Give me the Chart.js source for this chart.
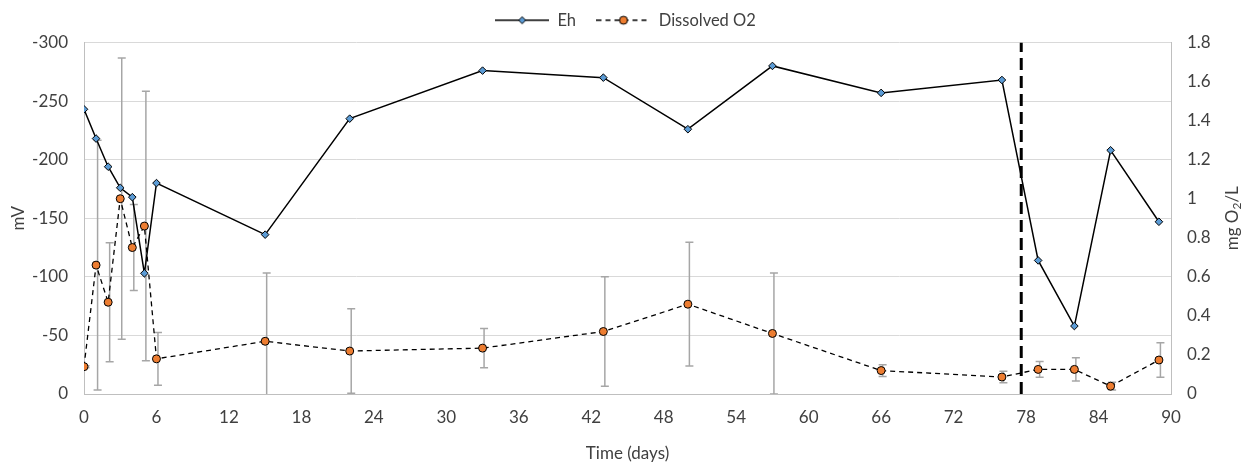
<!DOCTYPE html>
<html>
<head>
<meta charset="utf-8">
<title>Eh and dissolved O2</title>
<script src="https://cdn.jsdelivr.net/npm/chart.js"></script>
<style>
    html, body { margin: 0; padding: 0; background: #fff; }
    .wrap { position: relative; width: 1251px; height: 469px; }
</style>
</head>
<body>
<div class="wrap"><canvas id="chart"></canvas></div>
<script>
// sampling days
const days = [0, 1, 2, 3, 4, 5, 6, 15, 22, 33, 43, 50, 57, 66, 76, 79, 82, 85, 89];
// Eh (mV), left axis
const eh = [-243, -218, -194, -176, -168, -103, -180, -136, -235, -276, -270, -226, -280, -257, -268, -114, -58, -208, -147];
// dissolved O2 (mg/L), right axis, with +/- error
const o2 = [0.14, 0.66, 0.47, 1.0, 0.75, 0.86, 0.18, 0.27, 0.22, 0.235, 0.32, 0.46, 0.31, 0.12, 0.087, 0.126, 0.126, 0.04, 0.174];
const o2Err = [0.005, 0.64, 0.305, 0.72, 0.22, 0.69, 0.135, 0.35, 0.216, 0.10, 0.28, 0.317, 0.31, 0.03, 0.03, 0.04, 0.06, 0.02, 0.088];
const dividerDay = 77.6;

const xTicks = [0, 6, 12, 18, 24, 30, 36, 42, 48, 54, 60, 66, 72, 78, 84, 90];
const mvTicks = [0, -50, -100, -150, -200, -250, -300];
const o2Ticks = [0, 0.2, 0.4, 0.6, 0.8, 1, 1.2, 1.4, 1.6, 1.8];

const FONT = 'Lato';
const TEXT = '#404040';
const GRID = '#d9d9d9';
const AXIS = '#bfbfbf';

// legend icons: line with marker in the middle
function legendIcon(dashed, marker) {
    const c = document.createElement('canvas');
    c.width = 54; c.height = 12;
    const g = c.getContext('2d');
    g.strokeStyle = '#000';
    g.lineWidth = 1.5;
    if (dashed) g.setLineDash([5, 4]);
    g.beginPath(); g.moveTo(0, 6); g.lineTo(54, 6); g.stroke();
    g.setLineDash([]);
    g.lineWidth = 1;
    g.beginPath();
    if (marker === 'diamond') {
        g.moveTo(27, 2.5); g.lineTo(30.5, 6); g.lineTo(27, 9.5); g.lineTo(23.5, 6); g.closePath();
        g.fillStyle = '#5b9bd5';
    } else {
        g.arc(27, 6, 4, 0, Math.PI * 2);
        g.fillStyle = '#ed7d31';
    }
    g.fill(); g.stroke();
    return c;
}
const icons = [legendIcon(false, 'diamond'), legendIcon(true, 'circle')];

const errorBars = {
    id: 'errorBars',
    beforeDatasetsDraw(chart) {
        const { ctx, chartArea, scales } = chart;
        ctx.save();
        ctx.beginPath();
        ctx.rect(chartArea.left, chartArea.top, chartArea.right - chartArea.left, chartArea.bottom - chartArea.top);
        ctx.clip();
        ctx.strokeStyle = '#a6a6a6';
        ctx.lineWidth = 1.5;
        days.forEach((d, i) => {
            const x = scales.x.getPixelForValue(d) + 1.5;
            const yTop = scales.y1.getPixelForValue(o2[i] + o2Err[i]);
            const yBot = scales.y1.getPixelForValue(o2[i] - o2Err[i]);
            ctx.beginPath();
            ctx.moveTo(x, yTop); ctx.lineTo(x, yBot);
            ctx.moveTo(x - 4, yTop); ctx.lineTo(x + 4, yTop);
            ctx.moveTo(x - 4, yBot); ctx.lineTo(x + 4, yBot);
            ctx.stroke();
        });
        ctx.restore();
    }
};

// right axis title, reading bottom to top like the left one
const rightTitle = {
    id: 'rightTitle',
    afterDraw(chart) {
        const { ctx, chartArea } = chart;
        const cx = 1233, cy = (chartArea.top + chartArea.bottom) / 2;
        ctx.save();
        ctx.translate(cx, cy);
        ctx.rotate(-Math.PI / 2);
        ctx.fillStyle = TEXT;
        ctx.textBaseline = 'middle';
        const big = '17px ' + FONT, small = '12px ' + FONT;
        ctx.font = big;
        const w1 = ctx.measureText('mg O').width;
        const w3 = ctx.measureText('/L').width;
        ctx.font = small;
        const w2 = ctx.measureText('2').width;
        let x = -(w1 + w2 + w3) / 2;
        ctx.font = big;
        ctx.fillText('mg O', x, 0);
        x += w1;
        ctx.font = small;
        ctx.fillText('2', x, 4);
        x += w2;
        ctx.font = big;
        ctx.fillText('/L', x, 0);
        ctx.restore();
    }
};

Chart.defaults.font.family = FONT;
Chart.defaults.font.size = 17;
Chart.defaults.color = TEXT;

new Chart(document.getElementById('chart'), {
    type: 'line',
    data: {
        datasets: [
            {
                label: 'Eh',
                data: days.map((d, i) => ({ x: d, y: eh[i] })),
                yAxisID: 'y',
                borderColor: '#000',
                borderWidth: 1.5,
                pointStyle: 'rectRot',
                pointRadius: 3.8,
                pointBackgroundColor: '#5b9bd5',
                pointBorderColor: '#000',
                pointBorderWidth: 1,
                tension: 0
            },
            {
                label: 'Dissolved O2',
                data: days.map((d, i) => ({ x: d, y: o2[i] })),
                yAxisID: 'y1',
                borderColor: '#000',
                borderWidth: 1.3,
                borderDash: [5, 4],
                pointStyle: 'circle',
                pointRadius: 4,
                pointBackgroundColor: '#ed7d31',
                pointBorderColor: '#000',
                pointBorderWidth: 1,
                tension: 0
            },
            {
                label: 'divider',
                data: [{ x: dividerDay, y: 0 }, { x: dividerDay, y: -300 }],
                yAxisID: 'y',
                borderColor: '#000',
                borderWidth: 3,
                borderDash: [12, 6],
                pointRadius: 0
            }
        ]
    },
    options: {
        responsive: true,
        maintainAspectRatio: false,
        animation: false,
        layout: { padding: { top: 0 } },
        plugins: {
            tooltip: { enabled: false },
            legend: {
                position: 'top',
                labels: {
                    usePointStyle: true,
                    pointStyleWidth: 54,
                    padding: 12,
                    color: TEXT,
                    font: { size: 16.5 },
                    generateLabels(chart) {
                        return Chart.defaults.plugins.legend.labels.generateLabels(chart)
                            .filter(l => l.datasetIndex < 2)
                            .map(l => ({
                                ...l,
                                pointStyle: icons[l.datasetIndex],
                                text: l.datasetIndex === 0 ? l.text + '  ' : l.text
                            }));
                    }
                }
            }
        },
        scales: {
            x: {
                type: 'linear',
                min: 0,
                max: 90,
                afterBuildTicks: s => { s.ticks = xTicks.map(v => ({ value: v })); },
                afterFit: s => { s.height = 75; },
                grid: { display: false, drawTicks: false },
                border: { color: AXIS, width: 1 },
                ticks: { padding: 13, color: TEXT },
                title: { display: true, text: 'Time (days)', color: TEXT, padding: { bottom: 5 } }
            },
            // empty top band: spacing between legend and plot
            xTop: {
                type: 'linear',
                position: 'top',
                afterFit: s => { s.height = 4; },
                grid: { display: false, drawTicks: false },
                border: { display: false },
                ticks: { display: false }
            },
            y: {
                position: 'left',
                reverse: true,
                min: -300,
                max: 0,
                afterBuildTicks: s => { s.ticks = mvTicks.map(v => ({ value: v })); },
                afterFit: s => { s.width = 84; },
                grid: { color: GRID, lineWidth: 1, drawTicks: false },
                border: { color: AXIS, width: 1 },
                ticks: { padding: 16, color: TEXT },
                title: { display: true, text: 'mV', color: TEXT, padding: { top: 8 } }
            },
            y1: {
                position: 'right',
                min: 0,
                max: 1.8,
                afterBuildTicks: s => { s.ticks = o2Ticks.map(v => ({ value: v })); },
                afterFit: s => { s.width = 80; },
                grid: { display: false, drawTicks: false },
                border: { color: AXIS, width: 1 },
                ticks: { padding: 16, color: TEXT, callback: v => String(+v.toFixed(1)) }
            }
        }
    },
    plugins: [errorBars, rightTitle]
});
</script>
</body>
</html>
